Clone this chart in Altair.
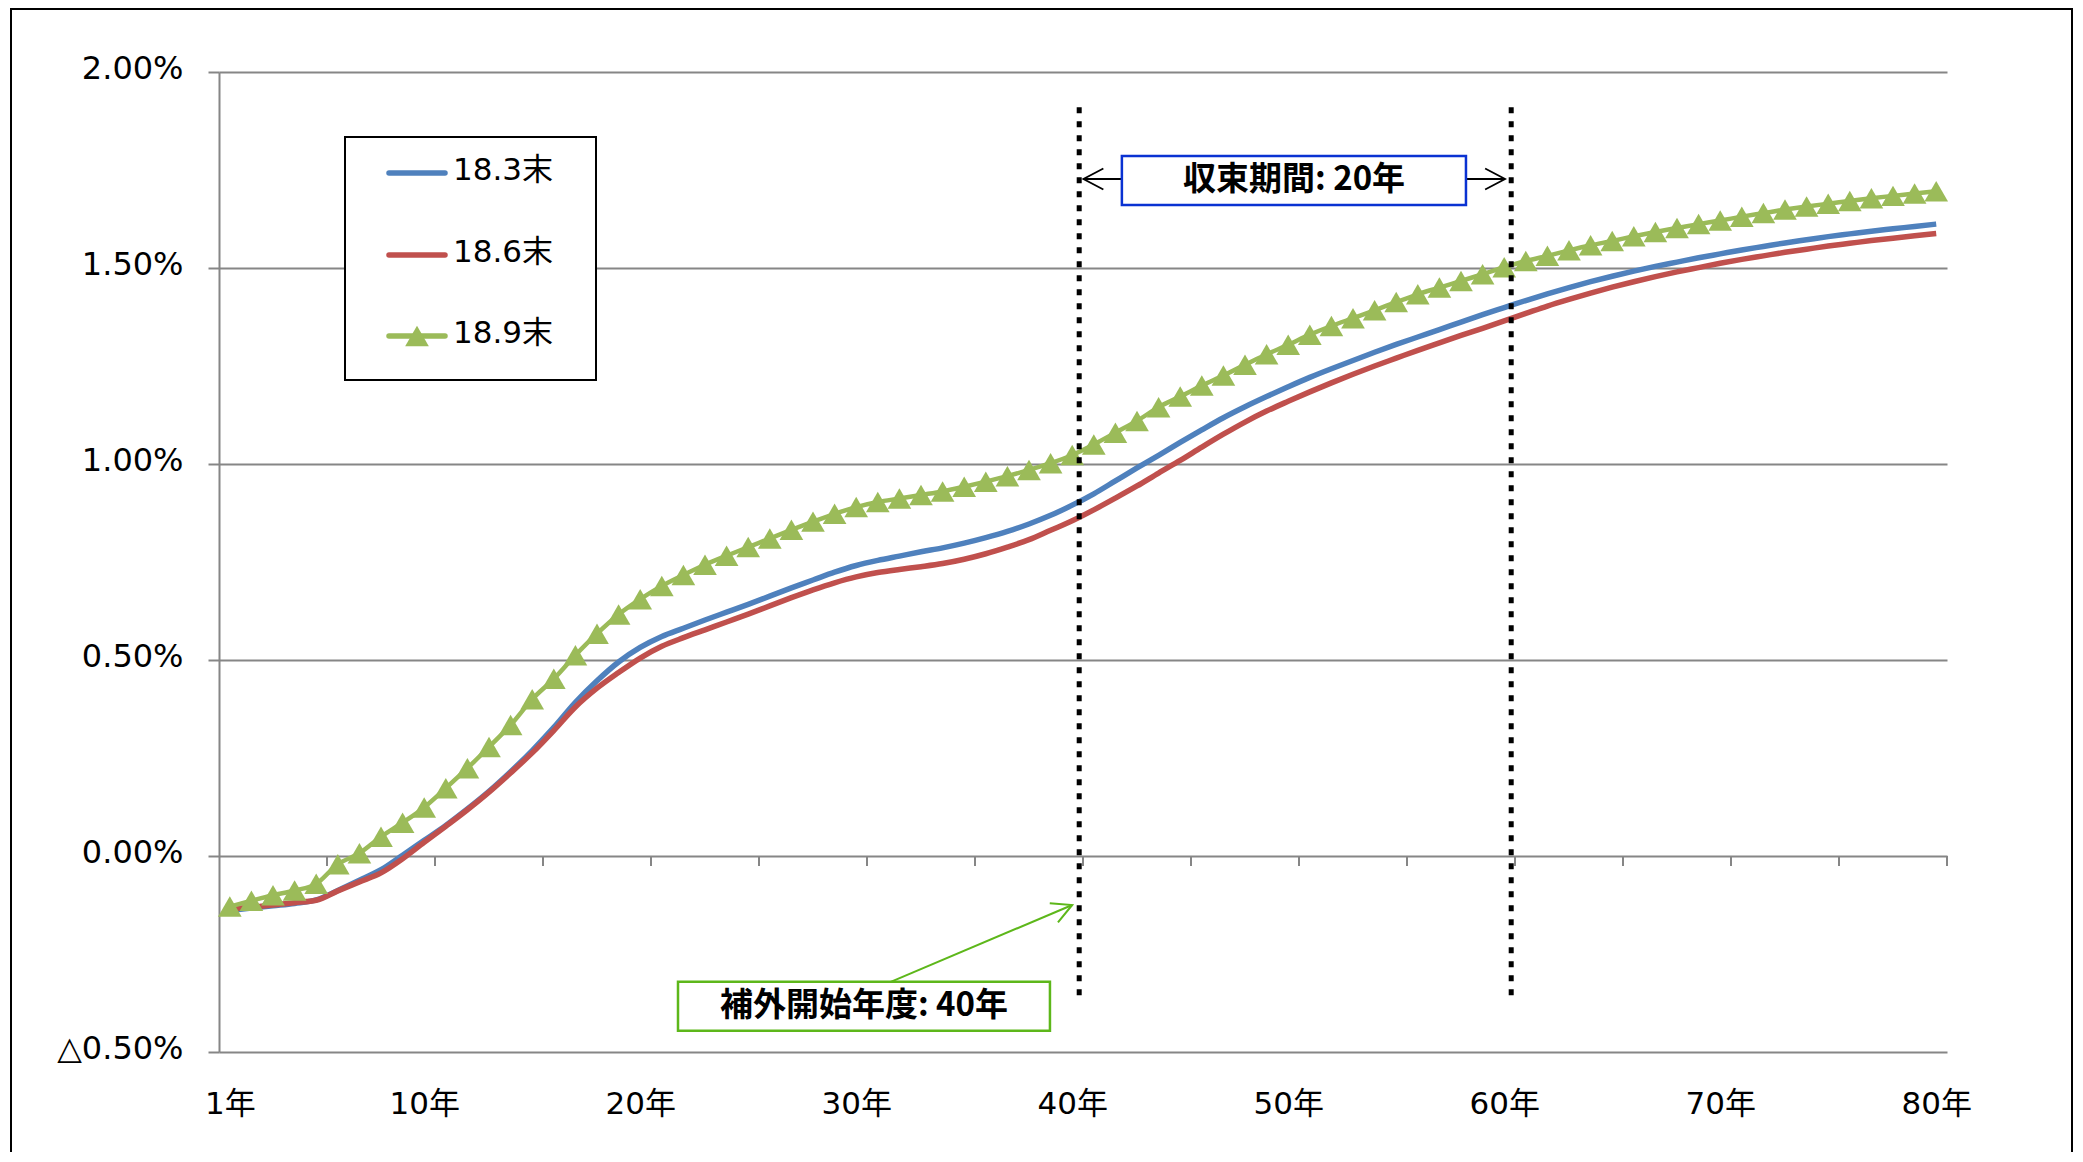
import altair as alt
import pandas as pd

FONT = "Noto Sans CJK JP"
LFONT = '"DejaVu Sans", "Noto Sans CJK JP"'

# ---------------- data ----------------
years = list(range(1, 81))

rate_183 = [
    -0.139, -0.133, -0.127, -0.121, -0.112, -0.088, -0.062, -0.035, 0.002, 0.040,
    0.078, 0.120, 0.165, 0.215, 0.269, 0.328, 0.392, 0.447, 0.495, 0.532,
    0.560, 0.581, 0.602, 0.622, 0.642, 0.663, 0.684, 0.704, 0.724, 0.741,
    0.754, 0.765, 0.776, 0.786, 0.798, 0.812, 0.828, 0.847, 0.869, 0.895,
    0.924, 0.957, 0.990, 1.022, 1.055, 1.087, 1.118, 1.146, 1.172, 1.197,
    1.221, 1.243, 1.264, 1.285, 1.305, 1.324, 1.343, 1.362, 1.381, 1.399,
    1.417, 1.434, 1.450, 1.465, 1.479, 1.492, 1.504, 1.515, 1.526, 1.536,
    1.546, 1.555, 1.564, 1.572, 1.580, 1.587, 1.594, 1.600, 1.606, 1.612,
]
rate_186 = [
    -0.135, -0.131, -0.125, -0.119, -0.113, -0.089, -0.066, -0.043, -0.007, 0.035,
    0.076, 0.118, 0.163, 0.212, 0.263, 0.320, 0.380, 0.428, 0.468, 0.505,
    0.535, 0.557, 0.577, 0.597, 0.617, 0.638, 0.659, 0.679, 0.697, 0.712,
    0.723, 0.731, 0.738, 0.746, 0.757, 0.771, 0.788, 0.807, 0.831, 0.855,
    0.883, 0.913, 0.944, 0.977, 1.009, 1.043, 1.076, 1.107, 1.135, 1.160,
    1.184, 1.207, 1.229, 1.250, 1.270, 1.290, 1.309, 1.328, 1.346, 1.365,
    1.384, 1.403, 1.420, 1.436, 1.451, 1.465, 1.478, 1.490, 1.501, 1.512,
    1.522, 1.531, 1.540, 1.548, 1.556, 1.563, 1.570, 1.576, 1.582, 1.588,
]
rate_189 = [
    -0.129, -0.114, -0.100, -0.088, -0.071, -0.021, 0.007, 0.049, 0.085, 0.124,
    0.173, 0.224, 0.278, 0.334, 0.400, 0.452, 0.512, 0.567, 0.616, 0.655,
    0.689, 0.717, 0.743, 0.766, 0.788, 0.810, 0.832, 0.853, 0.873, 0.890,
    0.903, 0.912, 0.921, 0.930, 0.942, 0.955, 0.969, 0.985, 1.002, 1.023,
    1.050, 1.080, 1.110, 1.145, 1.172, 1.200, 1.226, 1.253, 1.280, 1.304,
    1.330, 1.352, 1.372, 1.392, 1.413, 1.433, 1.450, 1.467, 1.484, 1.502,
    1.518, 1.531, 1.545, 1.558, 1.569, 1.581, 1.592, 1.602, 1.612, 1.621,
    1.631, 1.640, 1.649, 1.657, 1.664, 1.671, 1.678, 1.684, 1.690, 1.696,
]

series_names = ["18.3末", "18.6末", "18.9末"]
series_colors = ["#4F81BD", "#C0504D", "#9BBB59"]

x_label_years = [1, 10, 20, 30, 40, 50, 60, 70, 80]
x_tick_bounds = [5.5, 10.5, 15.5, 20.5, 25.5, 30.5, 35.5, 40.5,
                 45.5, 50.5, 55.5, 60.5, 65.5, 70.5, 75.5, 80.5]
y_ticks = [-0.5, 0.0, 0.5, 1.0, 1.5, 2.0]

marker_years = [40, 60]
period_label = "収束期間: 20年"
start_label = "補外開始年度: 40年"

# ---------------- geometry ----------------
W, H = 1728, 980
GRID = "#868686"
XS = alt.Scale(domain=[0.5, 80.5], nice=False, zero=False)
YS = alt.Scale(domain=[-0.5, 2.0], nice=False, zero=False)

x_axis = alt.Axis(values=x_label_years, labelExpr="datum.value + '年'",
                  ticks=False, tickSize=0, domain=False, grid=False,
                  labelFont=LFONT, labelFontSize=31, labelColor="black",
                  labelBaseline="middle", labelPadding=52,
                  labelFlush=False, labelOverlap=False, title=None)
y_axis = alt.Axis(values=y_ticks,
                  labelExpr="datum.value < 0 ? '△' + format(-datum.value, '.2f') + '%' : format(datum.value, '.2f') + '%'",
                  tickSize=11, tickColor=GRID, tickWidth=2,
                  domainColor=GRID, domainWidth=2,
                  grid=True, gridColor=GRID, gridWidth=2,
                  labelFont=LFONT, labelFontSize=32, labelColor="black",
                  labelPadding=25, labelOffset=-4,
                  labelFlush=False, labelOverlap=False, title=None)


def X(field=None, datum=None):
    if datum is not None:
        return alt.X(datum=datum, type="quantitative", scale=XS, axis=x_axis)
    return alt.X(field, type="quantitative", scale=XS, axis=x_axis)


def Y(field=None, datum=None):
    if datum is not None:
        return alt.Y(datum=datum, type="quantitative", scale=YS, axis=y_axis)
    return alt.Y(field, type="quantitative", scale=YS, axis=y_axis)


def series_df(vals, name):
    return pd.DataFrame({"year": years, "rate": vals, "series": name})


df_b = series_df(rate_183, series_names[0])
df_r = series_df(rate_186, series_names[1])
df_g = series_df(rate_189, series_names[2])

LW = 5.5
blue = alt.Chart(df_b).mark_line(strokeWidth=LW, interpolate="monotone", color=series_colors[0]).encode(
    x=X("year"), y=Y("rate"))
red = alt.Chart(df_r).mark_line(strokeWidth=LW, interpolate="monotone", color=series_colors[1]).encode(
    x=X("year"), y=Y("rate"))
green = alt.Chart(df_g).mark_line(strokeWidth=4.5, interpolate="monotone", color=series_colors[2]).encode(
    x=X("year"), y=Y("rate"))
green_pts = alt.Chart(df_g).mark_point(shape="triangle-up", filled=True, size=560, opacity=1,
                                       color=series_colors[2]).encode(x=X("year"), y=Y("rate"))

# x-axis tick marks hanging from the 0% line
ticks = alt.Chart(pd.DataFrame({"b": x_tick_bounds})).mark_rule(color=GRID, strokeWidth=2, y2Offset=10).encode(
    x=X("b"), y=Y(datum=0), y2=alt.Y2(datum=0))

# dotted verticals at 40 and 60
dotted = alt.Chart(pd.DataFrame({"year": marker_years})).mark_rule(
    color="black", strokeWidth=5, strokeDash=[6, 8], xOffset=7).encode(
    x=X("year"), y=Y(datum=1.91), y2=alt.Y2(datum=-0.375))

# 収束期間 box + arrows
pbox = pd.DataFrame({"x1": [42.3], "x2": [58.23], "y1": [1.786], "y2": [1.661],
                     "xc": [50.27], "yc": [1.7235], "t": [period_label]})
period_rect = alt.Chart(pbox).mark_rect(fill="white", stroke="#0A32D2", strokeWidth=2.5).encode(
    x=X("x1"), x2="x2:Q", y=Y("y1"), y2="y2:Q")
period_text = alt.Chart(pbox).mark_text(font=FONT, fontSize=33, fontWeight="bold", color="black",
                                        baseline="middle", align="center").encode(
    x=X("xc"), y=Y("yc"), text="t:N")
parr = pd.DataFrame({"xa": [40.52, 58.23], "xb": [42.3, 60.04], "y": [1.727, 1.727]})
period_arr = alt.Chart(parr).mark_rule(color="black", strokeWidth=1.8).encode(
    x=X("xa"), x2="xb:Q", y=Y("y"))
head_l = alt.Chart(pd.DataFrame({"x": [40.52], "y": [1.727]})).mark_point(
    shape="M1.9,-1L0,0L1.9,1", filled=False, size=440,
    color="black", strokeWidth=1.8, opacity=1).encode(x=X("x"), y=Y("y"))
head_r = alt.Chart(pd.DataFrame({"x": [60.04], "y": [1.727]})).mark_point(
    shape="M-1.9,-1L0,0L-1.9,1", filled=False, size=440,
    color="black", strokeWidth=1.8, opacity=1).encode(x=X("x"), y=Y("y"))

# 補外開始年度 box + arrow
GREEN_BOX = "#5DB71A"
sbox = pd.DataFrame({"x1": [21.75], "x2": [38.97], "y1": [-0.321], "y2": [-0.446],
                     "xc": [30.36], "yc": [-0.383], "t": [start_label]})
start_arr = alt.Chart(pd.DataFrame({"xa": [31.6], "xb": [40.0], "ya": [-0.321], "yb": [-0.125]})).mark_rule(
    color=GREEN_BOX, strokeWidth=2).encode(x=X("xa"), x2="xb:Q", y=Y("ya"), y2="yb:Q")
start_head = alt.Chart(pd.DataFrame({"x": [40.0], "y": [-0.125]})).mark_point(
    shape="M-1.9,-1L0,0L-1.9,1", filled=False, size=440, angle=337,
    color=GREEN_BOX, strokeWidth=2, opacity=1).encode(x=X("x"), y=Y("y"))
start_rect = alt.Chart(sbox).mark_rect(fill="white", stroke=GREEN_BOX, strokeWidth=2.5).encode(
    x=X("x1"), x2="x2:Q", y=Y("y1"), y2="y2:Q")
start_text = alt.Chart(sbox).mark_text(font=FONT, fontSize=33, fontWeight="bold", color="black",
                                       baseline="middle", align="center").encode(
    x=X("xc"), y=Y("yc"), text="t:N")

# ---------------- manual legend ----------------
one = pd.DataFrame({"a": [0]})
legend_layers = [
    alt.Chart(one).mark_rect(fill="white", stroke="black", strokeWidth=2).encode(
        x=alt.value(126), x2=alt.value(377), y=alt.value(65), y2=alt.value(308))
]
legend_rows = [101, 183, 264]
for name, col, ly in zip(series_names, series_colors, legend_rows):
    legend_layers.append(
        alt.Chart(one).mark_rule(color=col, strokeWidth=LW, strokeCap="round").encode(
            x=alt.value(170), x2=alt.value(226), y=alt.value(ly)))
    legend_layers.append(
        alt.Chart(pd.DataFrame({"t": [name]})).mark_text(
            font=LFONT, fontSize=31, color="black", align="left", baseline="middle").encode(
            x=alt.value(234), y=alt.value(ly - 2), text="t:N"))
legend_layers.append(
    alt.Chart(one).mark_point(shape="triangle-up", filled=True, size=560, opacity=1,
                              color=series_colors[2]).encode(x=alt.value(198), y=alt.value(legend_rows[2])))

# outer chart-area border (bottom edge falls below the visible page, as in the original)
border = alt.Chart(one).mark_rect(fill=None, stroke="black", strokeWidth=2).encode(
    x=alt.value(-208), x2=alt.value(1853), y=alt.value(-63), y2=alt.value(1100))

chart = alt.layer(
    blue, red, green, green_pts, ticks, dotted,
    period_arr, head_l, head_r, period_rect, period_text,
    start_arr, start_head, start_rect, start_text,
    *legend_layers, border,
).properties(
    width=W, height=H,
    autosize=alt.AutoSizeParams(type="none"),
    padding={"left": 211, "top": 64, "right": 127, "bottom": 100},
    background="white",
).configure_view(stroke=None)

chart.save("out.html", embed_options={"renderer": "svg", "actions": False})
